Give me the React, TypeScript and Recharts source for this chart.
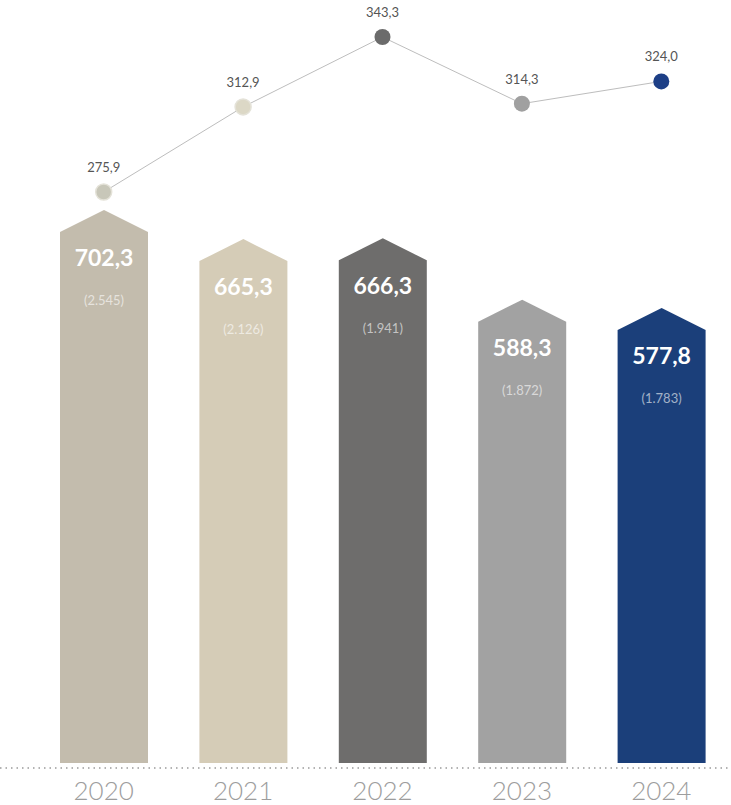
import React from "react";
import {
  ComposedChart,
  Bar,
  Line,
  XAxis,
  YAxis,
  LabelList,
} from "recharts";

const YEARS = ["2020", "2021", "2022", "2023", "2024"];
const BAR_VALUES = [702.3, 665.3, 666.3, 588.3, 577.8];
const BAR_SUB_LABELS = ["(2.545)", "(2.126)", "(1.941)", "(1.872)", "(1.783)"];
const LINE_VALUES = [275.9, 312.9, 343.3, 314.3, 324.0];

const BAR_COLORS = ["#c3bcad", "#d5ccb7", "#6e6d6c", "#a2a2a2", "#1b3f7a"];
const DOT_COLORS = ["#c8c7b9", "#dcd8c6", "#6b6b6b", "#a0a0a0", "#1d3f86"];

const FONT = "Lato, 'Open Sans', sans-serif";
const PEAK = 22; // height of the roof on each bar

const data = YEARS.map((year, i) => ({
  year,
  bar: BAR_VALUES[i],
  line: LINE_VALUES[i],
}));

const fmt = (v: number) => v.toFixed(1).replace(".", ",");

function HouseBar(props: any) {
  const { x, y, width, height, index } = props;
  if (height <= 0) return null;
  const d = `M${x},${y + PEAK} L${x + width / 2},${y} L${x + width},${y + PEAK} L${x + width},${y + height} L${x},${y + height} Z`;
  return <path d={d} fill={BAR_COLORS[index]} />;
}

function BarLabel(props: any) {
  const { x, y, width, index, value } = props;
  const cx = x + width / 2;
  return (
    <g>
      <text
        x={cx}
        y={y + 47}
        textAnchor="middle"
        dominantBaseline="central"
        fill="#ffffff"
        fontFamily={FONT}
        fontWeight={700}
        fontSize={23}
      >
        {fmt(value)}
      </text>
      <text
        x={cx}
        y={y + 90}
        textAnchor="middle"
        dominantBaseline="central"
        fill="rgba(255,255,255,0.6)"
        fontFamily={FONT}
        fontSize={13}
      >
        {BAR_SUB_LABELS[index]}
      </text>
    </g>
  );
}

function LineLabel(props: any) {
  const { x, y, value } = props;
  return (
    <text
      x={x}
      y={y - 25}
      textAnchor="middle"
      dominantBaseline="central"
      fill="#555555"
      fontFamily={FONT}
      fontSize={13}
    >
      {fmt(value)}
    </text>
  );
}

function Dot(props: any) {
  const { cx, cy, index } = props;
  return (
    <circle
      key={`dot-${index}`}
      cx={cx}
      cy={cy}
      r={8}
      fill={DOT_COLORS[index]}
      stroke="#e4e2d8"
      strokeWidth={index < 2 ? 1.5 : 0}
    />
  );
}

function YearTick(props: any) {
  const { x, y, payload } = props;
  return (
    <text
      x={x}
      y={y + 24}
      textAnchor="middle"
      fill="#9d9d9d"
      fontFamily={FONT}
      fontWeight={300}
      fontSize={26}
    >
      {payload.value}
    </text>
  );
}

export default function App() {
  return (
    <div style={{ width: 731, height: 805, background: "#ffffff" }}>
      <style>{"body{margin:0}"}</style>
      <ComposedChart
        width={731}
        height={805}
        data={data}
        margin={{ top: 0, right: 0, bottom: 0, left: 0 }}
      >
        <XAxis
          dataKey="year"
          padding={{ left: 34, right: 0 }}
          axisLine={{ stroke: "#9a9a9a", strokeDasharray: "1.5 4", strokeWidth: 1.5 }}
          tickLine={false}
          tick={<YearTick />}
          height={37}
          interval={0}
        />
        <YAxis
          yAxisId="bars"
          hide
          domain={[-6.35, 968.9]}
          allowDataOverflow
        />
        <YAxis
          yAxisId="line"
          hide
          orientation="right"
          domain={[25.4, 359.4]}
          allowDataOverflow
        />
        <Bar
          yAxisId="bars"
          dataKey="bar"
          barSize={88}
          shape={<HouseBar />}
          isAnimationActive={false}
        >
          <LabelList dataKey="bar" content={<BarLabel />} />
        </Bar>
        <Line
          yAxisId="line"
          dataKey="line"
          stroke="#bdbdbd"
          strokeWidth={1}
          dot={Dot}
          activeDot={false}
          isAnimationActive={false}
        >
          <LabelList dataKey="line" content={<LineLabel />} />
        </Line>
      </ComposedChart>
    </div>
  );
}
